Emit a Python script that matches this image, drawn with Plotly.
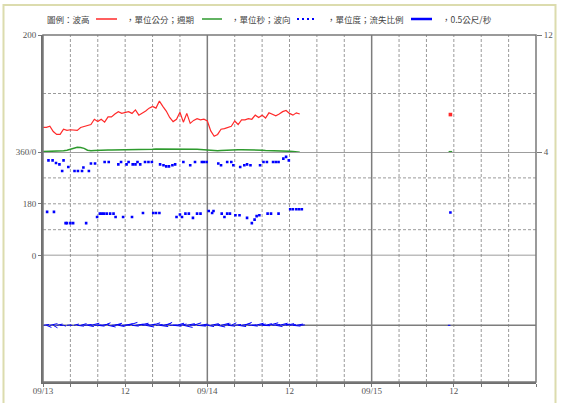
import numpy as np
import pandas as pd
import plotly.graph_objects as go

# ---------------- data ----------------
START = pd.Timestamp("2019-09-13 00:00")
STEP_H = 0.5  # half-hourly buoy records

wave_height_cm = [
    42, 42, 44, 35, 30, 30, 39, 37,
    38, 37, 37, 42, 44, 46, 47, 56,
    52, 56, 51, 60, 60, 65, 69, 66,
    67, 69, 66, 72, 63, 66, 70, 75,
    78, 75, 87, 78, 70, 59, 52, 56,
    68, 51, 66, 49, 54, 57, 55, 56,
    53, 36, 27, 30, 39, 40, 42, 44,
    53, 47, 55, 55, 57, 56, 63, 59,
    63, 58, 67, 65, 62, 65, 69, 71,
    66, 63, 67, 65,
]

wave_period_s = [
    4.03, 4.03, 4.04, 4.05, 4.05, 4.06, 4.08, 4.12,
    4.20, 4.28, 4.32, 4.30, 4.25, 4.12, 4.08, 4.10,
    4.12, 4.12, 4.13, 4.13, 4.14, 4.14, 4.15, 4.15,
    4.15, 4.16, 4.16, 4.15, 4.16, 4.17, 4.17, 4.18,
    4.18, 4.20, 4.20, 4.19, 4.18, 4.20, 4.20, 4.22,
    4.22, 4.23, 4.22, 4.20, 4.20, 4.18, 4.17, 4.15,
    4.12, 4.10, 4.08, 4.08, 4.10, 4.10, 4.12, 4.12,
    4.14, 4.15, 4.16, 4.16, 4.15, 4.14, 4.13, 4.12,
    4.12, 4.10, 4.10, 4.09, 4.08, 4.08, 4.07, 4.06,
    4.05, 4.04, 4.02, 3.98,
]

# current vector components (m/s), same half-hourly times
current_u = [
    0.15, 0.12, 0.18, 0.10, 0.14, 0.08, 0.06, 0.10,
    0.05, 0.12, 0.16, 0.14, 0.18, 0.15, 0.20, 0.17,
    0.16, 0.19, 0.14, 0.18, 0.22, 0.17, 0.15, 0.20,
    0.18, 0.21, 0.16, 0.19, 0.23, 0.17, 0.20, 0.15,
    0.18, 0.16, 0.21, 0.19, 0.14, 0.17, 0.20, 0.18,
    0.16, 0.22, 0.19, 0.15, 0.18, 0.21, 0.17, 0.13,
    0.16, 0.19, 0.14, 0.18, 0.20, 0.15, 0.17, 0.12,
    0.15, 0.19, 0.21, 0.16, 0.18, 0.14, 0.20, 0.17,
    0.19, 0.15, 0.22, 0.18, 0.16, 0.20, 0.17, 0.19,
    0.15, 0.18, 0.16, 0.12,
]
current_v = [
    0.02, -0.05, 0.04, -0.06, 0.03, 0.00, -0.02, 0.01,
    0.00, 0.03, -0.02, 0.04, 0.02, -0.03, 0.05, 0.01,
    -0.02, 0.03, 0.06, -0.04, 0.02, 0.05, -0.03, 0.01,
    0.04, 0.07, -0.02, 0.03, 0.05, 0.02, -0.04, 0.03,
    0.06, 0.02, -0.03, 0.04, 0.07, 0.01, -0.02, 0.05,
    0.03, -0.05, 0.04, 0.02, 0.06, -0.02, 0.03, 0.01,
    -0.03, 0.04, 0.02, -0.04, 0.05, 0.03, -0.02, 0.06,
    0.02, -0.03, 0.04, 0.07, 0.01, -0.02, 0.05, 0.03,
    -0.01, 0.04, 0.06, 0.02, -0.03, 0.05, 0.03, 0.04,
    0.02, -0.02, 0.03, 0.01,
]

# wave direction readings (hours after 09/13 00:00, degrees)
dir_hours_n = [0.8, 1.4, 1.9, 2.4, 2.8, 3.0, 3.7, 4.6, 5.1, 5.7, 5.9, 6.7, 7.0, 7.6,
               9.0, 9.6, 11.0, 11.4, 12.2, 12.5, 13.1, 13.5, 13.8, 14.2, 14.9, 15.4,
               15.9, 17.1, 17.6, 18.0, 18.4, 18.9, 19.3, 20.5, 21.5, 22.2, 23.2, 23.5,
               23.9, 25.6, 26.0, 26.9, 27.5, 27.8, 28.8, 29.4, 29.8, 30.3, 31.7, 32.2,
               32.7, 33.6, 34.0, 34.4, 35.1, 35.5, 35.9]
dir_deg_n = [331, 331, 322, 317, 294, 331, 308, 294, 294, 294, 306, 294, 320, 320,
             325, 325, 317, 325, 317, 325, 317, 317, 325, 317, 325, 325,
             325, 317, 314, 310, 310, 314, 317, 325, 314, 325, 325, 325,
             325, 320, 314, 325, 325, 314, 308, 314, 317, 314, 314, 325,
             325, 325, 325, 325, 337, 343, 331]
dir_hours_s = [0.6, 1.6, 3.3, 3.5, 4.0, 4.4, 6.3, 7.9, 8.3, 8.6, 8.9, 9.3, 9.8, 10.3,
               10.6, 11.7, 13.0, 14.6, 16.1, 16.5, 17.0, 19.5, 20.0, 20.3, 20.8, 21.3,
               21.9, 22.5, 23.0, 24.2, 24.7, 24.9, 26.1, 26.5, 26.9, 27.3, 28.1, 28.7,
               29.8, 30.5, 30.9, 31.2, 31.6, 32.8, 33.3, 34.4, 36.1, 36.5, 37.0, 37.4,
               37.8]
dir_deg_s = [152, 152, 113, 113, 113, 113, 113, 134, 146, 146, 146, 146, 146, 146,
             134, 134, 134, 148, 148, 148, 148, 134, 143, 134, 146, 146,
             131, 146, 146, 155, 148, 155, 146, 134, 146, 146, 140, 140,
             131, 113, 125, 137, 140, 146, 146, 146, 161, 161, 161, 161,
             161]

# single later record on 09/15
late_hour = [59.5]
late_height_cm = [64]
late_period_s = [3.95]
late_dir_deg = [150]
late_u = [-0.06]
late_v = [0.0]

x_tick_hours = list(range(0, 73, 4))
x_tick_text = {0: "09/13", 12: "12", 24: "09/14", 36: "12", 48: "09/15", 60: "12"}

# ---------------- helpers ----------------
def at(hours):
    return [START + pd.Timedelta(hours=float(h)) for h in hours]

half_hours = np.arange(len(wave_height_cm)) * STEP_H
t_main = at(half_hours)

W, H = 561, 403
ML, MR, MT, MB = 43, 25, 35, 21
PW, PH = W - ML - MR, H - MT - MB
PX_PER_H = PW / 72.0

D1 = (381.7 - 151.7) / PH   # panel boundaries (paper fraction)
D2 = (381.7 - 255.3) / PH
CUR_RANGE = [-1.35, 1.66]
PX_PER_MPS = (D2 * PH) / (CUR_RANGE[1] - CUR_RANGE[0])
H_PER_MPS = PX_PER_MPS / PX_PER_H  # keeps sticks isotropic


def px_x(px):
    return (px - ML) / PW


def px_y(py):
    return (H - MB - py) / PH


# current sticks
stick_x, stick_y = [], []
for h, u, v in list(zip(half_hours, current_u, current_v)) + list(zip(late_hour, late_u, late_v)):
    stick_x += [START + pd.Timedelta(hours=float(h)),
                START + pd.Timedelta(hours=float(h + u * H_PER_MPS)), None]
    stick_y += [0, v, None]

RED = "#ff2a2a"
GREEN = "#2e9a2e"
BLUE = "#0000ff"

fig = go.Figure()

fig.add_trace(go.Scatter(x=t_main, y=wave_height_cm, mode="lines",
                         line=dict(color=RED, width=1.2), yaxis="y", xaxis="x"))
fig.add_trace(go.Scatter(x=t_main, y=wave_period_s, mode="lines",
                         line=dict(color=GREEN, width=1.5), yaxis="y4"))
fig.add_trace(go.Scatter(x=at(late_hour), y=late_height_cm, mode="markers",
                         marker=dict(color=RED, size=3.6, symbol="square",
                                     line=dict(width=0)), yaxis="y"))
fig.add_trace(go.Scatter(x=at(late_hour), y=late_period_s, mode="markers",
                         marker=dict(color=GREEN, size=3.6, symbol="square",
                                     line=dict(width=0)), yaxis="y4"))
for hh, dd in ((dir_hours_n, dir_deg_n), (dir_hours_s, dir_deg_s), (late_hour, late_dir_deg)):
    fig.add_trace(go.Scatter(x=at(hh), y=dd, mode="markers",
                             marker=dict(color=BLUE, size=2.6, symbol="square",
                                         line=dict(width=0)), yaxis="y2"))
fig.add_trace(go.Scatter(x=stick_x, y=stick_y, mode="lines",
                         line=dict(color=BLUE, width=1), yaxis="y3"))

# ---------------- grid & frame ----------------
shapes = []
GRID = "#9a9a9a"
SOLID = "#7d7d7d"
for h in x_tick_hours[1:-1]:
    solid = h % 24 == 0
    shapes.append(dict(type="line", xref="x", yref="paper",
                       x0=START + pd.Timedelta(hours=h), x1=START + pd.Timedelta(hours=h),
                       y0=0, y1=1, layer="below",
                       line=dict(color=SOLID if solid else GRID,
                                 width=1.5 if solid else 1,
                                 dash="solid" if solid else "3px,2px")))
for yref, val in (("y", 100), ("y2", 90), ("y2", 180), ("y2", 270)):
    shapes.append(dict(type="line", xref="paper", yref=yref, x0=0, x1=1, y0=val, y1=val,
                       layer="below", line=dict(color=GRID, width=1, dash="3px,2px")))
for yref, val in (("y2", 360), ("y2", 0), ("y3", 0)):
    shapes.append(dict(type="line", xref="paper", yref=yref, x0=0, x1=1, y0=val, y1=val,
                       layer="below", line=dict(color=SOLID, width=1.5)))
shapes.append(dict(type="rect", xref="paper", yref="paper", x0=0, x1=1, y0=0, y1=1,
                   layer="above", line=dict(color="#7a7a7a", width=1.5)))
# outer page border
shapes.append(dict(type="rect", xref="paper", yref="paper",
                   x0=px_x(3.5), x1=px_x(555.5), y0=px_y(410), y1=px_y(5),
                   layer="below", line=dict(color="#dcdcae", width=2)))

# ---------------- key (legend row) ----------------
LEG_Y = px_y(19)
KEY_FONT = dict(family="Noto Sans CJK TC", size=8.5, color="#444")
annotations = []
for px, txt in ((45, "圖例：波高"), (124, "，單位公分；週期"), (229, "，單位秒；波向"),
                (325, "，單位度；流失比例"), (440, "，0.5公尺/秒")):
    annotations.append(dict(xref="paper", yref="paper", x=px_x(px), y=LEG_Y, text=txt,
                            showarrow=False, xanchor="left", yanchor="middle", font=KEY_FONT))
for x0, x1, col, wd in ((96, 117, RED, 1.5), (202, 222, GREEN, 1.5), (411, 411 + 0.5 * PX_PER_MPS, BLUE, 2.5)):
    shapes.append(dict(type="line", xref="paper", yref="paper", x0=px_x(x0), x1=px_x(x1),
                       y0=LEG_Y, y1=LEG_Y, line=dict(color=col, width=wd)))
for px in (297, 302, 307, 312):
    shapes.append(dict(type="rect", xref="paper", yref="paper",
                       x0=px_x(px), x1=px_x(px + 2), y0=px_y(20), y1=px_y(18),
                       fillcolor=BLUE, line=dict(width=0)))

TICK_FONT = dict(family="Liberation Serif", size=9, color="#555")
AX = dict(showgrid=False, zeroline=False, ticks="outside", ticklen=3, automargin=False,
          tickcolor="#777", tickfont=TICK_FONT, showline=False, fixedrange=True)

fig.update_layout(
    width=W, height=H,
    margin=dict(l=ML, r=MR, t=MT, b=MB, pad=0, autoexpand=False),
    paper_bgcolor="white", plot_bgcolor="white",
    showlegend=False,
    shapes=shapes, annotations=annotations,
    xaxis=dict(AX, domain=[0, 1], anchor="y3",
               range=[START, START + pd.Timedelta(hours=72)],
               tickvals=at(x_tick_hours),
               ticktext=[x_tick_text.get(h, "") for h in x_tick_hours],
               showline=True, linecolor="#6e6e6e", linewidth=2, ticklen=3,
               ticklabelstandoff=-4),
    yaxis=dict(AX, domain=[D1, 1], range=[0, 200], tickvals=[200], ticktext=["200"],
               showline=True, linecolor="#6e6e6e", linewidth=2, anchor="x"),
    yaxis4=dict(AX, overlaying="y", side="right", range=[4, 12], tickvals=[12, 4],
                ticktext=["12", "4"], anchor="x", ticklen=5),
    yaxis2=dict(AX, domain=[D2, D1], range=[0, 360], tickvals=[360, 180, 0],
                ticktext=["360/0", "180", "0"], showline=True, linecolor="#6e6e6e",
                linewidth=2, anchor="x"),
    yaxis3=dict(AX, domain=[0, D2], range=CUR_RANGE, showticklabels=False, ticks="",
                showline=True, linecolor="#6e6e6e", linewidth=2, anchor="x"),
)

fig.write_html("out.html")
